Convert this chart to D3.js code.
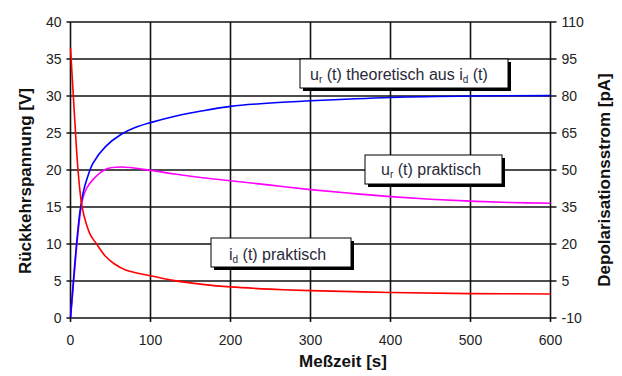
<!DOCTYPE html>
<html><head><meta charset="utf-8">
<script src="https://cdn.jsdelivr.net/npm/d3@7"></script>
<style>body{margin:0;background:#fff}svg{display:block;font-family:"Liberation Sans",Arial,sans-serif}</style>
</head><body><svg id="c" width="622" height="376"></svg>
<script>
// Data (time in s)
const xTicks = [0,100,200,300,400,500,600];
const yLeftTicks = [0,5,10,15,20,25,30,35,40];
const yRightTicks = [-10,5,20,35,50,65,80,95,110];

// i_d(t) praktisch, right axis [pA]
const idTime = [0,3,6,9,12,14.5,19.5,25,32,44,55,69,100,130,165,200,250,300,400,500,600];
const idVal  = [99.5,83,66.5,51.5,41,35,28.4,23.6,20.3,14.9,11.9,9.5,7.1,5.15,3.65,2.6,1.7,1.1,0.35,-0.1,-0.25];

// u_r(t) theoretisch aus i_d(t), left axis [V]
const urTheoTime = [0,4,8,12,16,20,28,44,63,80,100,132,165,200,250,300,400,500,600];
const urTheoVal  = [0,5.5,10.5,14.5,17,18.6,20.9,23.2,24.8,25.7,26.4,27.3,28.0,28.6,29.05,29.35,29.8,30,30.05];

// u_r(t) praktisch, left axis [V]
const urPrakTime = [0,4,8,12,15,20,28,44,63,100,130,165,200,250,300,350,400,450,500,550,600];
const urPrakVal  = [0,5,10,14,16,17.5,18.7,20.1,20.4,19.95,19.45,18.95,18.55,17.95,17.35,16.85,16.4,16.05,15.8,15.6,15.5];

const svg = d3.select("#c");
const L = 70.5, R = 550.5, T = 22, B = 318;
const x = d3.scaleLinear().domain([0,600]).range([L,R]);
const yL = d3.scaleLinear().domain([0,40]).range([B,T]);
const yR = d3.scaleLinear().domain([-10,110]).range([B,T]);

// grid
const g = svg.append("g");
g.selectAll(".vg").data(xTicks).join("line")
  .attr("x1",d=>x(d)).attr("x2",d=>x(d)).attr("y1",T).attr("y2",B+4)
  .attr("stroke","#111").attr("stroke-width",1.6);
g.selectAll(".hg").data(yLeftTicks).join("line")
  .attr("x1",L-4).attr("x2",R+6).attr("y1",d=>yL(d)).attr("y2",d=>yL(d))
  .attr("stroke","#111").attr("stroke-width",1.6);

// tick labels
const tf = 14;
svg.append("g").selectAll("text").data(yLeftTicks).join("text")
  .attr("x",L-9).attr("y",d=>yL(d)+5).attr("text-anchor","end")
  .attr("font-size",tf).attr("fill","#222").text(d=>d);
svg.append("g").selectAll("text").data(yRightTicks).join("text")
  .attr("x",R+11).attr("y",d=>yR(d)+5).attr("text-anchor","start")
  .attr("font-size",tf).attr("fill","#222").text(d=>d);
svg.append("g").selectAll("text").data(xTicks).join("text")
  .attr("x",d=>x(d)).attr("y",B+27).attr("text-anchor","middle")
  .attr("font-size",tf).attr("fill","#222").text(d=>d);

// axis titles
svg.append("text").attr("transform","translate(31,181) rotate(-90)")
  .attr("text-anchor","middle").attr("font-weight","bold").attr("font-size",17)
  .attr("fill","#111").text("Rückkehrspannung [V]");
svg.append("text").attr("transform","translate(610,180) rotate(-90)")
  .attr("text-anchor","middle").attr("font-weight","bold").attr("font-size",17)
  .attr("fill","#111").text("Depolarisationsstrom [pA]");
svg.append("text").attr("x",343).attr("y",367)
  .attr("text-anchor","middle").attr("font-weight","bold").attr("font-size",17)
  .attr("fill","#111").text("Meßzeit [s]");

// curves
const line = (ys) => d3.line().x(d=>x(d[0])).y(d=>ys(d[1])).curve(d3.curveCatmullRom.alpha(0.5));
const zip = (a,b) => a.map((t,i)=>[t,b[i]]);
svg.append("path").datum(zip(urPrakTime,urPrakVal)).attr("d",line(yL))
  .attr("fill","none").attr("stroke","#ff00ff").attr("stroke-width",1.6);
svg.append("path").datum(zip(urTheoTime,urTheoVal)).attr("d",line(yL))
  .attr("fill","none").attr("stroke","#0000ff").attr("stroke-width",1.6);
svg.append("path").datum(zip(idTime,idVal)).attr("d",line(yR))
  .attr("fill","none").attr("stroke","#ff0000").attr("stroke-width",1.6);

// labels with shadow boxes
function label(bx,by,bw,bh,tx,ty,parts){
  const gg = svg.append("g");
  gg.append("rect").attr("x",bx+3).attr("y",by+3).attr("width",bw).attr("height",bh).attr("fill","#000");
  gg.append("rect").attr("x",bx).attr("y",by).attr("width",bw).attr("height",bh)
    .attr("fill","#fff").attr("stroke","#000").attr("stroke-width",1);
  const t = gg.append("text").attr("x",tx).attr("y",ty).attr("font-size",16).attr("fill","#2a2a3a");
  parts.forEach(p=>{
    const s = t.append("tspan").text(p[0]);
    if(p[1]) s.attr("font-size",10).attr("dy",3);
    if(p[2]) s.attr("dy",-3);
  });
}
label(300,59,208,29,310,80,[["u"],["r",true],[" (t) theoretisch aus i",false,true],["d",true],[" (t)",false,true]]);
label(365,155,137,29,381,175,[["u"],["r",true],[" (t) praktisch",false,true]]);
label(211,238,140,29,229,260,[["i"],["d",true],[" (t) praktisch",false,true]]);
</script></body></html>
